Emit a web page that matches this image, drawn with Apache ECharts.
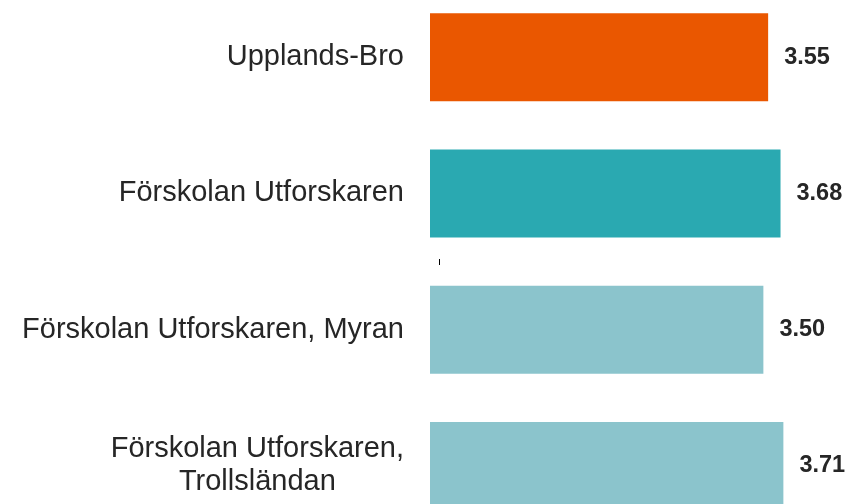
<!DOCTYPE html>
<html>
<head>
<meta charset="utf-8">
<script src="https://cdn.jsdelivr.net/npm/echarts@6/dist/echarts.min.js"></script>
<style>
  html, body { margin: 0; padding: 0; background: #fff; }
  #chart { width: 847px; height: 504px; }
</style>
</head>
<body>
<div id="chart"></div>
<script>
  var categories = [
    'Upplands-Bro',
    'Förskolan Utforskaren',
    'Förskolan Utforskaren, Myran',
    'Förskolan Utforskaren,\nTrollsländan'
  ];
  var values = [3.55, 3.68, 3.50, 3.71];
  var barColors = ['#EA5700', '#2AA9B1', '#8BC4CC', '#8BC4CC'];

  var chart = echarts.init(document.getElementById('chart'));

  chart.setOption({
    animation: false,
    grid: {
      left: 430,
      right: 36,
      top: -11,
      height: 545,
      containLabel: false,
      outerBoundsMode: 'none'
    },
    xAxis: {
      type: 'value',
      min: 0,
      max: 4,
      show: false
    },
    yAxis: {
      type: 'category',
      inverse: true,
      data: categories,
      axisLine: {show: false},
      axisTick: {show: false},
      splitLine: {show: false},
      axisLabel: {
        margin: 26,
        color: '#262626',
        fontFamily: 'Liberation Sans, Arial, sans-serif',
        fontSize: 29,
        lineHeight: 33,
        formatter: function (val) {
          return val.split('\n').map(function (s) {
            return '{c|' + s + '}';
          }).join('\n');
        },
        rich: {
          c: {
            align: 'center',
            color: '#262626',
            fontFamily: 'Liberation Sans, Arial, sans-serif',
            fontSize: 29,
            lineHeight: 33
          }
        }
      }
    },
    series: [
      {
        type: 'bar',
        barWidth: 88,
        data: values.map(function (v, i) {
          return {value: v, itemStyle: {color: barColors[i]}};
        }),
        label: {
          show: true,
          position: 'right',
          distance: 16,
          color: '#262626',
          fontFamily: 'Liberation Sans, Arial, sans-serif',
          fontWeight: 'bold',
          fontSize: 23.5,
          formatter: function (p) {
            return p.value.toFixed(2);
          }
        }
      }
    ],
    graphic: [
      {
        type: 'line',
        shape: {x1: 439.5, y1: 259, x2: 439.5, y2: 265},
        style: {stroke: '#000', lineWidth: 1}
      }
    ]
  });
</script>
</body>
</html>
